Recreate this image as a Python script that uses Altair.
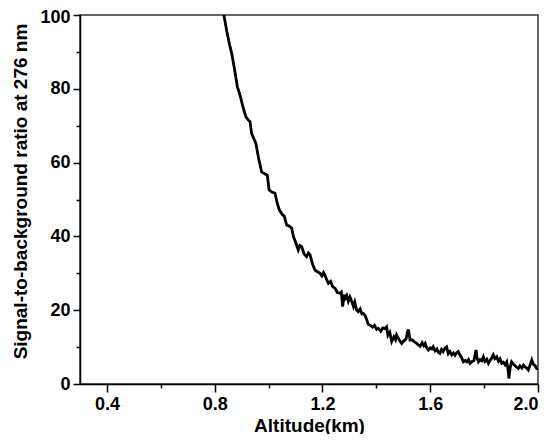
import altair as alt
import pandas as pd

altitude = [0.80, 0.834, 0.845, 0.855, 0.863, 0.872, 0.884, 0.895, 0.905, 0.916, 0.925, 0.931,
            0.937, 0.945, 0.953, 0.962, 0.974, 0.985, 0.995, 1.002, 1.012, 1.024, 1.032, 1.040,
            1.050, 1.058, 1.067, 1.076, 1.086, 1.092, 1.100, 1.110, 1.116, 1.123, 1.132, 1.141,
            1.148, 1.154, 1.163, 1.172, 1.180, 1.191, 1.198, 1.204, 1.209, 1.216, 1.222, 1.230,
            1.238, 1.247, 1.255, 1.265, 1.270, 1.275, 1.280, 1.284, 1.290, 1.296, 1.302, 1.309,
            1.315, 1.320, 1.327, 1.333, 1.340, 1.346, 1.352, 1.358, 1.364, 1.370, 1.378, 1.386,
            1.393, 1.401, 1.408, 1.416, 1.424, 1.432, 1.438, 1.443, 1.450, 1.457, 1.465, 1.471,
            1.475, 1.482, 1.488, 1.494, 1.502, 1.510, 1.516, 1.519, 1.525, 1.533, 1.540, 1.548,
            1.556, 1.563, 1.570, 1.576, 1.581, 1.587, 1.593, 1.600, 1.606, 1.611, 1.618, 1.625,
            1.630, 1.636, 1.642, 1.648, 1.655, 1.661, 1.667, 1.673, 1.680, 1.686, 1.692, 1.698,
            1.704, 1.710, 1.716, 1.723, 1.730, 1.736, 1.742, 1.748, 1.755, 1.762, 1.766, 1.770,
            1.774, 1.779, 1.785, 1.791, 1.797, 1.803, 1.810, 1.816, 1.822, 1.828, 1.834, 1.840,
            1.847, 1.853, 1.859, 1.865, 1.871, 1.878, 1.884, 1.888, 1.892, 1.897, 1.902, 1.908,
            1.914, 1.920, 1.927, 1.933, 1.940, 1.946, 1.952, 1.958, 1.964, 1.971, 1.977, 1.983,
            1.989, 1.995, 2.000]

sbr = [112.0, 100.0, 95.5, 92.0, 89.6, 86.0, 80.6, 78.0, 75.0, 72.4, 71.5, 71.1,
       67.9, 66.5, 65.2, 61.5, 57.5, 57.0, 56.6, 52.6, 52.0, 51.7, 49.0, 47.2,
       46.0, 45.5, 43.1, 42.8, 42.2, 40.0, 38.5, 36.3, 37.5, 37.2, 35.2, 34.5,
       35.5, 35.0, 32.5, 30.9, 30.5, 30.0, 29.3, 30.2, 29.5, 28.2, 27.3, 27.8,
       26.4, 25.9, 24.8, 24.6, 24.9, 21.0, 24.2, 23.2, 24.0, 22.4, 23.6, 22.3,
       21.0, 22.2, 20.0, 19.6, 20.3, 19.0, 19.1, 18.6, 17.5, 16.2, 15.9, 15.4,
       15.9, 14.8, 15.1, 14.3, 15.2, 15.0, 15.5, 13.2, 14.0, 11.5, 12.8, 12.0,
       13.3, 12.3, 11.6, 11.0, 11.7, 12.2, 14.2, 14.8, 11.9, 12.0, 11.5, 11.1,
       10.6, 10.2, 11.2, 10.4, 11.0, 9.8, 9.2, 9.8, 9.5, 10.1, 9.0, 9.5,
       8.6, 8.3, 9.4, 8.8, 9.8, 10.1, 8.2, 8.8, 7.9, 8.4, 7.8, 8.5,
       8.8, 7.9, 7.2, 6.0, 6.4, 6.0, 6.6, 5.6, 6.1, 6.3, 7.8, 9.2,
       7.0, 6.0, 6.6, 6.3, 7.4, 6.1, 6.7, 5.6, 6.4, 7.0, 7.9, 6.9,
       7.4, 6.2, 6.8, 5.6, 5.9, 5.2, 6.0, 4.5, 1.5, 4.6, 6.0, 5.4,
       5.0, 4.6, 4.2, 4.9, 4.3, 5.1, 4.6, 4.3, 3.8, 5.2, 6.5, 5.3,
       5.0, 4.2, 4.0]

x_ticks = [0.4, 0.6, 0.8, 1.0, 1.2, 1.4, 1.6, 1.8, 2.0]
y_ticks = [0, 10, 20, 30, 40, 50, 60, 70, 80, 90, 100]

df = pd.DataFrame({"alt": altitude, "sbr": sbr})

x_major = "round(datum.value * 10) % 4 == 0"
y_major = "datum.value % 20 == 0"
FONT = "Liberation Sans"

chart = alt.Chart(df).mark_line(color="black", strokeWidth=2.8, clip=True).encode(
    x=alt.X("alt:Q",
            scale=alt.Scale(domain=[0.3, 2.0], nice=False, zero=False),
            axis=alt.Axis(title="Altitude(km)", values=x_ticks,
                          labelExpr=f"{x_major} ? format(datum.value, '.1f') : ''",
                          tickSize={"condition": {"test": x_major, "value": 8}, "value": 4},
                          labelPadding=3, titleY=47, titleBaseline="alphabetic",
                          labelFont=FONT, labelFontSize=18, labelFontWeight="bold",
                          titleFont=FONT, titleFontSize=19, titleFontWeight="bold")),
    y=alt.Y("sbr:Q",
            scale=alt.Scale(domain=[0, 100], nice=False),
            axis=alt.Axis(title="Signal-to-background ratio at 276 nm", values=y_ticks,
                          labelExpr=f"{y_major} ? datum.label : ''",
                          labelOffset={"condition": {"test": "datum.value == 100", "value": 2}, "value": 0},
                          tickSize={"condition": {"test": y_major, "value": 7}, "value": 4},
                          labelPadding=3, titlePadding=9, titleY=176,
                          labelFont=FONT, labelFontSize=18, labelFontWeight="bold",
                          titleFont=FONT, titleFontSize=19, titleFontWeight="bold")),
).properties(
    width=458, height=369,
    autosize=alt.AutoSizeParams(type="none"),
    padding={"left": 72, "top": 7, "right": 6, "bottom": 50},
).configure_axis(
    grid=False, domainColor="black", domainWidth=1.5, tickColor="black", tickWidth=1.5,
    labelColor="black", titleColor="black",
).configure_view(stroke="#333333", strokeWidth=1.5)

chart.save("out.html", embed_options={"renderer": "svg", "actions": False})
